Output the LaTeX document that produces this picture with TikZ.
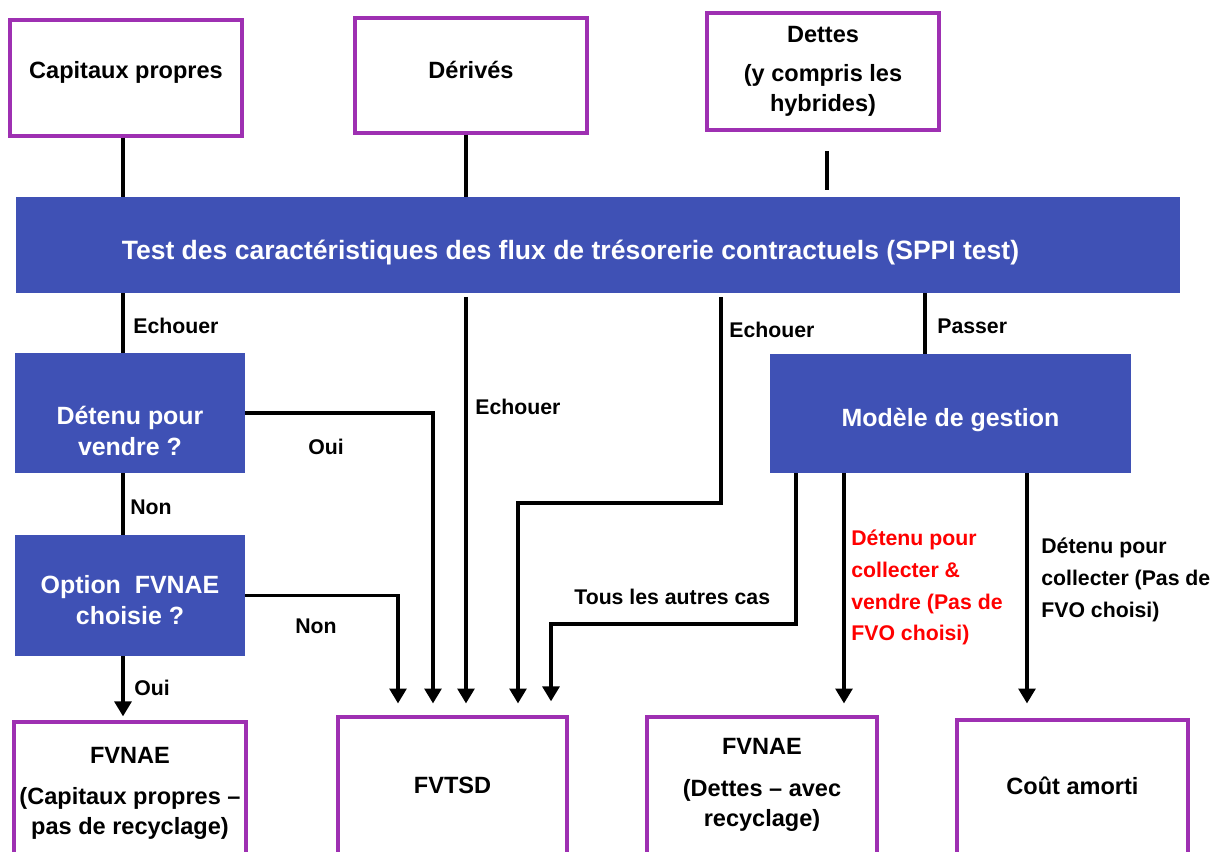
\documentclass[tikz,border=0pt]{standalone}
\usepackage{fontspec}
\setmainfont{Liberation Sans}
\usetikzlibrary{arrows.meta,positioning}
\definecolor{boxpurple}{RGB}{158,48,178}
\definecolor{testblue}{RGB}{63,81,181}
\begin{document}
\begin{tikzpicture}[x=0.02cm, y=-0.02cm]
		\tikzstyle{cat}=[draw=boxpurple, line width=1.8pt, fill=white, inner sep=0pt, font=\fontsize{13.4}{17}\selectfont\bfseries]
		\tikzstyle{test}=[fill=testblue, text=white, inner sep=0pt, font=\fontsize{14.2}{17.6}\selectfont\bfseries]
		\tikzstyle{lab}=[anchor=west, align=left, inner sep=0pt, font=\fontsize{12.1}{18}\selectfont\bfseries]
		\tikzstyle{conn}=[line width=2.2pt]
		\tikzstyle{arr}=[conn, -{Triangle[width=9.5pt,length=8.5pt]}, shorten >=6.8pt]
		\useasboundingbox (0,0) rectangle (1215,852);
		\clip (0,0) rectangle (1215,852);
		\draw
		node[cat, minimum width=4.64cm, minimum height=2.32cm, text depth=9.6pt](cp)at(126,78){Capitaux propres}
		node[cat, minimum width=4.64cm, minimum height=2.3cm, text depth=6.8pt](der)at(471,75.5){Dérivés}
		node[cat, align=center, minimum width=4.64cm, minimum height=2.34cm](det)at(823,71.5){Dettes\\[5pt](y compris les\\hybrides)}
		node[test, minimum width=23.28cm, minimum height=1.92cm, text height=20pt, font=\fontsize{15.1}{18}\selectfont\bfseries](sppi)at(598,245){Test des caractéristiques des flux de trésorerie contractuels (SPPI test)\hspace*{1.1cm}}
		node[test, align=center, minimum width=4.6cm, minimum height=2.4cm](vend)at(130,413){\rule{0pt}{31pt}Détenu pour\\vendre ?}
		node[test, align=center, minimum width=4.6cm, minimum height=2.42cm](opt)at(130,595.5){\rule{0pt}{15pt}Option~~FVNAE\\choisie ?}
		node[test, minimum width=7.22cm, minimum height=2.38cm, text height=17.3pt](mod)at(950.5,413.5){Modèle de gestion}
		node[cat, align=center, minimum width=4.64cm, minimum height=2.86cm](fa)at(130,793.5){FVNAE\\[6pt](Capitaux propres –\\pas de recyclage)}
		node[cat, minimum width=4.58cm, minimum height=2.9cm, text depth=4.5pt](fvtsd)at(452.5,789.5){FVTSD}
		node[cat, align=center, minimum width=4.6cm, minimum height=2.9cm](fb)at(762,789.5){FVNAE\\[7pt](Dettes – avec\\recyclage)\rule[-8pt]{0pt}{8pt}}
		node[cat, minimum width=4.62cm, minimum height=2.84cm, text depth=5.6pt](cout)at(1072.5,791){Coût amorti};
		
		\draw
		node[lab](e1)at(133,326){Echouer}
		node[lab](n1)at(130,507){Non}
		node[lab](o1)at(134,688){Oui}
		node[lab](o2)at(308,447){Oui}
		node[lab](n2)at(295,626){Non}
		node[lab](e2)at(475,407){Echouer}
		node[lab](e3)at(729,330){Echouer}
		node[lab](ps)at(937,326){Passer}
		node[lab](ac)at(574,597){Tous les autres cas}
		node[lab, anchor=north west, text=red](hcv)at(851,530){Détenu pour\\collecter \&\\vendre (Pas de\\FVO choisi)}
		node[lab, anchor=north west](hc)at(1041,538){Détenu pour\\collecter (Pas de\\FVO choisi)};
		
		% vers le test SPPI
		\draw[conn](123,0 |- cp.south)--(123,0 |- sppi.north);
		\draw[conn](466,0 |- der.south)--(466,0 |- sppi.north);
		\draw[conn, shorten <=11pt, shorten >=4pt](827,0 |- det.south)--(827,0 |- sppi.north);
		% capitaux propres
		\draw[conn](123,0 |- sppi.south)--(123,0 |- vend.north);
		\draw[conn](123,0 |- vend.south)--(123,0 |- opt.north);
		\draw[arr, shorten >=2.3pt](123,0 |- opt.south)--(123,0 |- fa.north);
		% vers FVTSD
		\draw[arr](opt.east)-|(398,0 |- fvtsd.north);
		\draw[arr](vend.east)-|(433,0 |- fvtsd.north);
		\draw[arr, shorten <=2pt](466,0 |- sppi.south)--(466,0 |- fvtsd.north);
		\draw[arr, shorten <=2pt](721,0 |- sppi.south)--(721,503)-|(518,0 |- fvtsd.north);
		\draw[arr, shorten >=8pt](796,0 |- mod.south)|-(551,624)--(551,0 |- fvtsd.north);
		% modele de gestion
		\draw[conn](925,0 |- sppi.south)--(925,0 |- mod.north);
		\draw[arr](844,0 |- mod.south)--(844,0 |- fb.north);
		\draw[arr, shorten >=8.5pt](1027,0 |- mod.south)--(1027,0 |- cout.north);
\end{tikzpicture}
\end{document}
